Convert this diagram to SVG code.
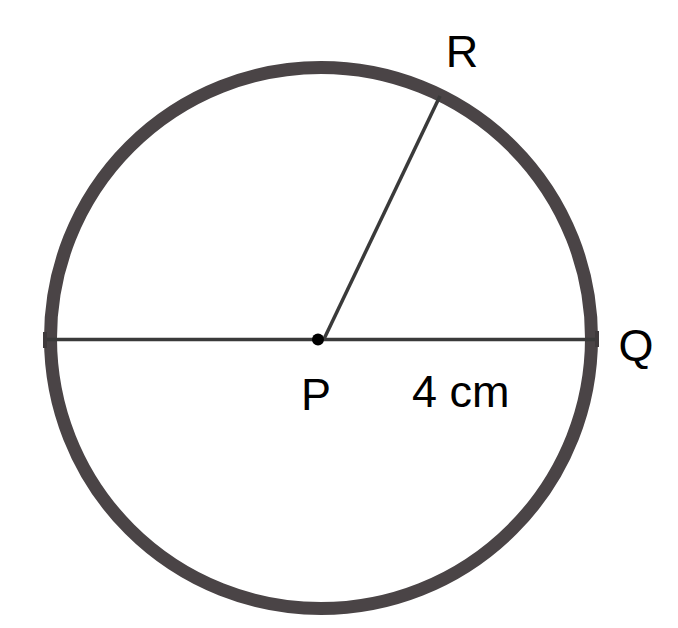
<svg xmlns="http://www.w3.org/2000/svg" width="678" height="628" viewBox="0 0 678 628">
<style>
.lbl{font-family:"Liberation Sans",Arial,sans-serif;font-size:45px;fill:#000}
.ln{stroke:#3a3a3a;stroke-width:3.5;fill:none;stroke-linecap:butt}
.tick{fill:#3f3a3c}
</style>
<rect width="678" height="628" fill="#fff"/>
<g id="circle">
<circle cx="321" cy="338" r="270.5" fill="none" stroke="#4a4446" stroke-width="13"/>
</g>
<g id="connectors">
<line class="ln" x1="45" y1="339.5" x2="598" y2="339.5"/>
<line class="ln" x1="324" y1="339" x2="440" y2="96"/>
<rect class="tick" x="43" y="332" width="4" height="16"/>
<rect class="tick" x="595" y="331" width="4" height="16"/>
</g>
<g id="P">
<circle cx="318" cy="339.5" r="6" fill="#000"/>
<text class="lbl" x="316" y="410" text-anchor="middle">P</text>
</g>
<g id="R">
<text class="lbl" x="462" y="67" text-anchor="middle">R</text>
</g>
<g id="Q">
<text class="lbl" x="636" y="361" text-anchor="middle">Q</text>
</g>
<g id="length">
<text class="lbl" x="412" y="407">4 cm</text>
</g>
</svg>
